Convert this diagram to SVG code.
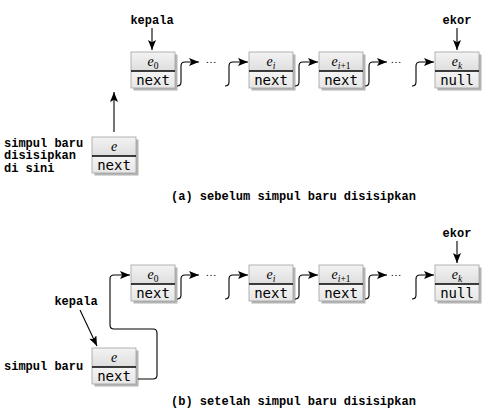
<svg xmlns="http://www.w3.org/2000/svg" width="492" height="418" viewBox="0 0 492 418">
<style>
.bg{fill:#ffffff}
.shadow{fill:#b4b4b4}
.top{fill:url(#gTop)}
.bot{fill:url(#gBot)}
.frame{fill:none;stroke:#a0a0a0;stroke-width:0.8}
.div{stroke:#000;stroke-width:1.6}
.lbl{font-family:"Liberation Serif",serif;font-style:italic;font-size:14px;text-anchor:middle;fill:#000}
.sub{font-size:9.5px}
.up{font-style:normal}
.fld{font-family:"DejaVu Sans Mono",monospace;font-size:14px;text-anchor:middle;fill:#000}
.tag{font-family:"Liberation Mono",monospace;font-weight:bold;font-size:12px;fill:#000}
.mid{text-anchor:middle}
.dots{font-family:"Liberation Serif",serif;font-size:11px;text-anchor:middle;fill:#000}
.cn{fill:none;stroke:#000;stroke-width:1.1}
.ar{marker-end:url(#ah)}
</style>
<defs>
<linearGradient id="gTop" x1="0" y1="0" x2="0" y2="1">
<stop offset="0" stop-color="#f3f3f3"/>
<stop offset="1" stop-color="#dedede"/>
</linearGradient>
<linearGradient id="gBot" x1="0" y1="0" x2="0" y2="1">
<stop offset="0" stop-color="#f4f4f4"/>
<stop offset="1" stop-color="#e6e6e6"/>
</linearGradient>
<marker id="ah" viewBox="0 0 10 8" refX="10" refY="4" markerWidth="10" markerHeight="8" markerUnits="userSpaceOnUse" orient="auto">
<path d="M0,0 L10,4 L0,8 L2.2,4 z" fill="#000"/>
</marker>
</defs>
<rect class="bg" x="0" y="0" width="492" height="418"/>

<!-- (a) nodes -->
<g id="a-e0" transform="translate(131,52)">
<rect class="shadow" x="2.5" y="2.5" width="44" height="36"/>
<rect class="top" width="44" height="19"/><rect class="bot" y="19" width="44" height="17"/>
<rect class="frame" width="44" height="36"/><line class="div" x1="0" y1="19" x2="44" y2="19"/>
<text class="lbl" x="22" y="14">e<tspan class="sub up" dy="3">0</tspan></text>
<text class="fld" x="22" y="33">next</text>
</g>
<g id="a-ei" transform="translate(249,52)">
<rect class="shadow" x="2.5" y="2.5" width="44" height="36"/>
<rect class="top" width="44" height="19"/><rect class="bot" y="19" width="44" height="17"/>
<rect class="frame" width="44" height="36"/><line class="div" x1="0" y1="19" x2="44" y2="19"/>
<text class="lbl" x="22" y="14">e<tspan class="sub" dy="3">i</tspan></text>
<text class="fld" x="22" y="33">next</text>
</g>
<g id="a-ei1" transform="translate(319,52)">
<rect class="shadow" x="2.5" y="2.5" width="44" height="36"/>
<rect class="top" width="44" height="19"/><rect class="bot" y="19" width="44" height="17"/>
<rect class="frame" width="44" height="36"/><line class="div" x1="0" y1="19" x2="44" y2="19"/>
<text class="lbl" x="22" y="14">e<tspan class="sub" dy="3">i</tspan><tspan class="sub up">+1</tspan></text>
<text class="fld" x="22" y="33">next</text>
</g>
<g id="a-ek" transform="translate(435,52)">
<rect class="shadow" x="2.5" y="2.5" width="44" height="36"/>
<rect class="top" width="44" height="19"/><rect class="bot" y="19" width="44" height="17"/>
<rect class="frame" width="44" height="36"/><line class="div" x1="0" y1="19" x2="44" y2="19"/>
<text class="lbl" x="22" y="14">e<tspan class="sub" dy="3">k</tspan></text>
<text class="fld" x="22" y="33">null</text>
</g>
<g id="a-new" transform="translate(92,137)">
<rect class="shadow" x="2.5" y="2.5" width="44" height="36"/>
<rect class="top" width="44" height="19"/><rect class="bot" y="19" width="44" height="17"/>
<rect class="frame" width="44" height="36"/><line class="div" x1="0" y1="19" x2="44" y2="19"/>
<text class="lbl" x="22" y="14">e</text>
<text class="fld" x="22" y="33">next</text>
</g>

<!-- (b) nodes -->
<g id="b-e0" transform="translate(131,265)">
<rect class="shadow" x="2.5" y="2.5" width="44" height="36"/>
<rect class="top" width="44" height="19"/><rect class="bot" y="19" width="44" height="17"/>
<rect class="frame" width="44" height="36"/><line class="div" x1="0" y1="19" x2="44" y2="19"/>
<text class="lbl" x="22" y="14">e<tspan class="sub up" dy="3">0</tspan></text>
<text class="fld" x="22" y="33">next</text>
</g>
<g id="b-ei" transform="translate(249,265)">
<rect class="shadow" x="2.5" y="2.5" width="44" height="36"/>
<rect class="top" width="44" height="19"/><rect class="bot" y="19" width="44" height="17"/>
<rect class="frame" width="44" height="36"/><line class="div" x1="0" y1="19" x2="44" y2="19"/>
<text class="lbl" x="22" y="14">e<tspan class="sub" dy="3">i</tspan></text>
<text class="fld" x="22" y="33">next</text>
</g>
<g id="b-ei1" transform="translate(319,265)">
<rect class="shadow" x="2.5" y="2.5" width="44" height="36"/>
<rect class="top" width="44" height="19"/><rect class="bot" y="19" width="44" height="17"/>
<rect class="frame" width="44" height="36"/><line class="div" x1="0" y1="19" x2="44" y2="19"/>
<text class="lbl" x="22" y="14">e<tspan class="sub" dy="3">i</tspan><tspan class="sub up">+1</tspan></text>
<text class="fld" x="22" y="33">next</text>
</g>
<g id="b-ek" transform="translate(435,265)">
<rect class="shadow" x="2.5" y="2.5" width="44" height="36"/>
<rect class="top" width="44" height="19"/><rect class="bot" y="19" width="44" height="17"/>
<rect class="frame" width="44" height="36"/><line class="div" x1="0" y1="19" x2="44" y2="19"/>
<text class="lbl" x="22" y="14">e<tspan class="sub" dy="3">k</tspan></text>
<text class="fld" x="22" y="33">null</text>
</g>
<g id="b-new" transform="translate(92,348)">
<rect class="shadow" x="2.5" y="2.5" width="44" height="36"/>
<rect class="top" width="44" height="19"/><rect class="bot" y="19" width="44" height="17"/>
<rect class="frame" width="44" height="36"/><line class="div" x1="0" y1="19" x2="44" y2="19"/>
<text class="lbl" x="22" y="14">e</text>
<text class="fld" x="22" y="33">next</text>
</g>

<!-- connectors -->
<g id="connectors">
<line class="cn ar" x1="152" y1="28" x2="152" y2="50"/>
<line class="cn ar" x1="457" y1="28" x2="457" y2="50"/>
<line class="cn ar" x1="114" y1="132" x2="114" y2="92"/>
<path class="cn ar" d="M177,86 Q181,86 181,82 L181,66 Q181,62 185,62 L199,62"/>
<path class="cn ar" d="M225,86 Q229,86 229,82 L229,66 Q229,62 233,62 L248,62"/>
<path class="cn ar" d="M295,86 Q299,86 299,82 L299,66 Q299,62 303,62 L318,62"/>
<path class="cn ar" d="M365,86 Q369,86 369,82 L369,66 Q369,62 373,62 L387,62"/>
<path class="cn ar" d="M412,86 Q416,86 416,82 L416,66 Q416,62 420,62 L434,62"/>

<line class="cn ar" x1="457" y1="241" x2="457" y2="263"/>
<line class="cn ar" x1="80" y1="310" x2="97" y2="346"/>
<path class="cn ar" d="M138,379 L153,379 Q157,379 157,375 L157,333 Q157,329 153,329 L114,329 Q110,329 110,325 L110,279 Q110,275 114,275 L130,275"/>
<path class="cn ar" d="M177,299 Q181,299 181,295 L181,279 Q181,275 185,275 L199,275"/>
<path class="cn ar" d="M225,299 Q229,299 229,295 L229,279 Q229,275 233,275 L248,275"/>
<path class="cn ar" d="M295,299 Q299,299 299,295 L299,279 Q299,275 303,275 L318,275"/>
<path class="cn ar" d="M365,299 Q369,299 369,295 L369,279 Q369,275 373,275 L387,275"/>
<path class="cn ar" d="M412,299 Q416,299 416,295 L416,279 Q416,275 420,275 L434,275"/>
</g>

<!-- labels -->
<g id="labels">
<text class="tag mid" x="152" y="24">kepala</text>
<text class="tag mid" x="457" y="24">ekor</text>
<text class="tag" x="4" y="146.5">simpul baru</text>
<text class="tag" x="4" y="159">disisipkan</text>
<text class="tag" x="4" y="171.5">di sini</text>
<text class="dots" x="211" y="63">…</text>
<text class="dots" x="396" y="63">…</text>
<text class="tag" x="171" y="199.5">(a) sebelum simpul baru disisipkan</text>

<text class="tag mid" x="457" y="237">ekor</text>
<text class="tag mid" x="76" y="305">kepala</text>
<text class="tag" x="4" y="370">simpul baru</text>
<text class="dots" x="211" y="276">…</text>
<text class="dots" x="396" y="276">…</text>
<text class="tag" x="171" y="405">(b) setelah simpul baru disisipkan</text>
</g>
</svg>
